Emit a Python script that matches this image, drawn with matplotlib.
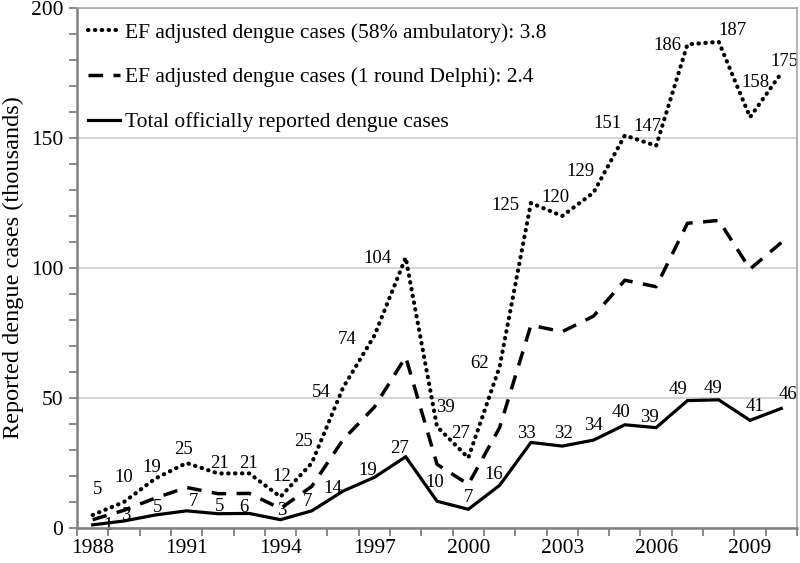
import matplotlib
matplotlib.use("Agg")
import matplotlib.pyplot as plt
from matplotlib.ticker import MultipleLocator, FixedLocator

plt.rcParams['font.family'] = ['Liberation Serif', 'DejaVu Serif']

years = list(range(1988, 2011))

# total officially reported (thousands)
total = [1.2, 2.7, 5.0, 6.6, 5.5, 5.6, 3.2, 6.6, 14.2, 19.5, 27.4, 10.3, 7.2,
         16.4, 32.9, 31.5, 33.8, 39.7, 38.6, 49.0, 49.3, 41.4, 46.0]
total_lbl = [1, 3, 5, 7, 5, 6, 3, 7, 14, 19, 27, 10, 7,
             16, 33, 32, 34, 40, 39, 49, 49, 41, 46]

# EF adjusted, 1 round Delphi (no labels in chart)
delphi = [3.2, 6.8, 11.5, 15.6, 13.2, 13.3, 7.5, 16.0, 34.0, 46.5, 65.8, 24.5, 16.8,
          38.6, 78.0, 75.5, 81.5, 95.3, 92.8, 117.2, 118.3, 99.6, 109.8]

# EF adjusted, 58% ambulatory
ambul = [5, 10, 19, 25, 21, 21, 12, 25, 54, 74, 104, 39, 27,
         62, 125, 120, 129, 151, 147, 186, 187, 158, 175]

# label offsets in pixels (dx, dy)
ambul_off = [(5, 26), (0, 25), (-3, 11), (-3, 14), (2, 10), (-1, 10), (1, 20), (-8, 21),
             (-22, -5), (-27, -4), (-28, -1), (8, 19), (-8, 24), (-20, 3), (-25, -3),
             (-7, 19), (-13, 21), (-17, 12), (-9, 19), (-20, -1), (14, 11), (5, 35), (3, 11)]
total_off = [(15, -1), (2, 5), (2, 7), (7, 9), (2, 7), (-5, 6), (1, 9), (-4, 9), (-10, 3),
             (-7, 7), (-6, 8), (-2, 19), (0, 12), (-6, 11), (-4, 9), (1, 13), (0, 15),
             (-4, 12), (-7, 10), (-9, 11), (-6, 11), (5, 14), (7, 14)]

fig = plt.figure(figsize=(8, 5.63), dpi=100)
ax = fig.add_axes([77/800, 1-528/563, 720/800, 520/563])

ax.plot(years, ambul, color='black', lw=3.0, linestyle=(0, (0.1, 1.55)),
        dash_capstyle='round', label='EF adjusted dengue cases (58% ambulatory): 3.8', zorder=3)
ax.plot(years, delphi, color='black', lw=2.5, linestyle=(0, (4.2, 3.0)),
        dash_capstyle='butt', label='EF adjusted dengue cases (1 round Delphi): 2.4', zorder=3)
ax.plot(years, total, color='black', lw=2.3, solid_joinstyle='miter',
        label='Total officially reported dengue cases', zorder=3)

for x, v, l, (dx, dy) in zip(years, ambul, ambul, ambul_off):
    ax.annotate(str(l), (x, v), xytext=(dx, dy), textcoords='offset pixels',
                ha='center', va='center', fontsize=13.5, zorder=2)
for x, v, l, (dx, dy) in zip(years, total, total_lbl, total_off):
    ax.annotate(str(l), (x, v), xytext=(dx, dy), textcoords='offset pixels',
                ha='center', va='center', fontsize=13.5, zorder=2)

ax.set_xlim(1987.5, 2010.5)
ax.set_ylim(0, 200)
ax.xaxis.set_major_locator(FixedLocator(list(range(1988, 2011, 3))))
ax.xaxis.set_minor_locator(FixedLocator([y - 0.5 for y in years] + [2010.5]))
ax.yaxis.set_major_locator(MultipleLocator(50))
ax.yaxis.set_minor_locator(MultipleLocator(10))
ax.tick_params(axis='x', which='major', length=0, labelsize=15.5, pad=8)
ax.tick_params(axis='x', which='minor', length=6, width=1.3, color='#808080', direction='out')
ax.tick_params(axis='y', which='both', length=6, width=1.3, color='#808080', direction='out',
               labelsize=15.5, pad=4)

ax.grid(axis='y', which='major', color='#d4d4d4', lw=1.4)
ax.set_axisbelow(True)
for s in ['left', 'bottom']:
    ax.spines[s].set_color('#808080')
    ax.spines[s].set_linewidth(1.8)
for s in ['top', 'right']:
    ax.spines[s].set_color('#a6a6a6')
    ax.spines[s].set_linewidth(1.2)

ax.set_ylabel('Reported dengue cases (thousands)', fontsize=17.5, labelpad=5)

ax.legend(loc='upper left', bbox_to_anchor=(0.015, 0.972), borderaxespad=0, borderpad=0,
          frameon=False, fontsize=15.5, handlelength=1.5, handletextpad=0.25,
          labelspacing=1.15)

fig.savefig('out.png', dpi=100)
